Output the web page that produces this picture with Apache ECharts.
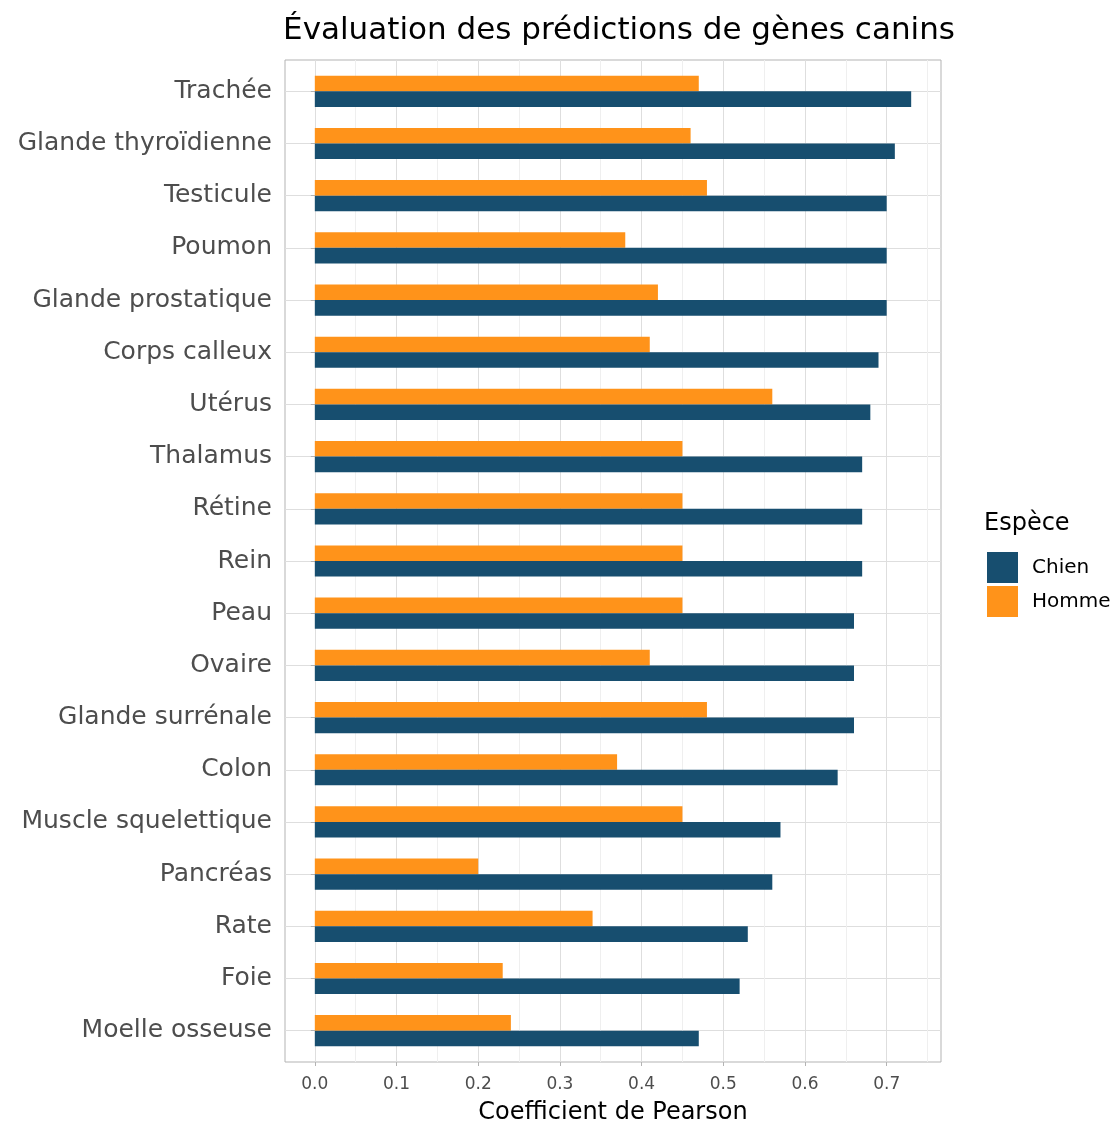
<!DOCTYPE html>
<html>
<head>
<meta charset="utf-8">
<script src="https://cdn.jsdelivr.net/npm/echarts@6/dist/echarts.min.js"></script>
<style>html,body{margin:0;padding:0;background:#fff}#c{width:1114px;height:1124px}</style>
</head>
<body>
<div id="c"></div>
<script>
const categories = ["Trachée","Glande thyroïdienne","Testicule","Poumon","Glande prostatique","Corps calleux","Utérus","Thalamus","Rétine","Rein","Peau","Ovaire","Glande surrénale","Colon","Muscle squelettique","Pancréas","Rate","Foie","Moelle osseuse"];
const chien = [0.73,0.71,0.70,0.70,0.70,0.69,0.68,0.67,0.67,0.67,0.66,0.66,0.66,0.64,0.57,0.56,0.53,0.52,0.47];
const homme = [0.47,0.46,0.48,0.38,0.42,0.41,0.56,0.45,0.45,0.45,0.45,0.41,0.48,0.37,0.45,0.20,0.34,0.23,0.24];
const majorTicks = [0,0.1,0.2,0.3,0.4,0.5,0.6,0.7];
const minorTicks = [0.05,0.15,0.25,0.35,0.45,0.55,0.65,0.75];
const xMin = -0.0365, xMax = 0.7665;

const FONT = "DejaVu Sans";
const chart = echarts.init(document.getElementById('c'), null, {renderer:'canvas'});
chart.setOption({
  animation:false,
  textStyle:{fontFamily:FONT},
  title:[
    {text:"Évaluation des prédictions de gènes canins", left:614, top:10, textAlign:'center',
     textStyle:{fontFamily:FONT, fontSize:31, fontWeight:'normal', color:'#000'}},
    {text:"Espèce", left:979, top:507, textStyle:{fontFamily:FONT, fontSize:24, fontWeight:'normal', color:'#000'}}
  ],
  legend:{orient:'vertical', left:982, top:547, itemWidth:31, itemHeight:31, itemGap:3, icon:'rect',
    data:['Chien','Homme'], textStyle:{fontFamily:FONT, fontSize:20, color:'#000', padding:[0,0,0,9]}},
  grid:[
    {left:285, top:60, width:656, height:1002, show:true, borderColor:'#b3b3b3', borderWidth:1, backgroundColor:'transparent', containLabel:false, outerBoundsMode:'none'},
    {left:285, top:91.3, width:656, height:939.4, containLabel:false, outerBoundsMode:'none'}
  ],
  xAxis:[
    {type:'value', gridIndex:0, min:xMin, max:xMax,
     name:"Coefficient de Pearson", nameLocation:'middle', nameGap:39,
     nameTextStyle:{fontFamily:FONT, fontSize:24, color:'#000'},
     axisLine:{show:false},
     axisTick:{show:true, customValues:majorTicks, length:4, lineStyle:{color:'#b3b3b3'}},
     axisLabel:{customValues:majorTicks, formatter:v=>Number(v).toFixed(1), color:'#4d4d4d', fontSize:17, margin:14, fontFamily:FONT},
     splitLine:{show:true, lineStyle:{color:'#dedede', width:1}}},
    {type:'value', gridIndex:0, min:xMin, max:xMax,
     axisLine:{show:false}, axisTick:{show:false, customValues:minorTicks}, axisLabel:{show:false, customValues:minorTicks},
     splitLine:{show:true, lineStyle:{color:'#efefef', width:1}}},
    {type:'value', gridIndex:1, min:xMin, max:xMax, show:false, splitLine:{show:false}}
  ],
  yAxis:[
    {type:'value', gridIndex:0, min:0, max:1, show:false, splitLine:{show:false}},
    {type:'category', gridIndex:1, data:categories, inverse:true, boundaryGap:false,
     axisLine:{show:false},
     axisTick:{show:true, length:4, lineStyle:{color:'#b3b3b3'}},
     axisLabel:{color:'#4d4d4d', fontSize:25, margin:13, fontFamily:FONT},
     splitLine:{show:true, lineStyle:{color:'#dedede', width:1}}}
  ],
  series:[
    {name:'Homme', type:'bar', xAxisIndex:2, yAxisIndex:1, data:homme, barWidth:15.6, barGap:'0%', clip:false,
     itemStyle:{color:'#ff931a'}},
    {name:'Chien', type:'bar', xAxisIndex:2, yAxisIndex:1, data:chien, barWidth:15.6, barGap:'0%', clip:false,
     itemStyle:{color:'#174e6f'}}
  ]
});
</script>
</body>
</html>
